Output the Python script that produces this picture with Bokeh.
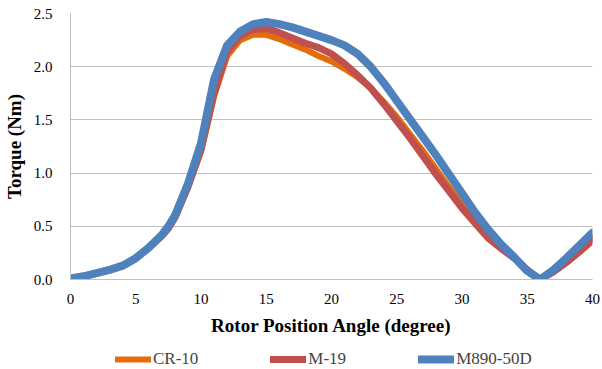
from bokeh.plotting import figure
from bokeh.layouts import column
from bokeh.models import Legend, LegendItem, SingleIntervalTicker, NumeralTickFormatter, Range1d
from bokeh.embed import file_html
from bokeh.resources import INLINE

# Rotor position angle (degree)
angle = [0, 1, 2, 3, 4, 5, 6, 7, 7.5, 8, 9, 10, 11, 12, 13, 14, 15, 16, 17, 18, 19, 20,
         21, 22, 23, 24, 25, 26, 27, 28, 29, 30, 31, 32, 33, 34, 35, 36, 37, 38, 39, 40]

# Static torque (Nm) for each lamination steel
cr10 = [0.01, 0.03, 0.06, 0.09, 0.13, 0.2, 0.3, 0.41, 0.48, 0.58, 0.86, 1.2, 1.72, 2.1, 2.25,
        2.3, 2.3, 2.26, 2.21, 2.16, 2.1, 2.05, 1.98, 1.9, 1.8, 1.67, 1.53, 1.37, 1.21, 1.04,
        0.87, 0.71, 0.55, 0.41, 0.3, 0.2, 0.09, 0.0, 0.08, 0.18, 0.28, 0.39]
m19 = [0.01, 0.03, 0.06, 0.09, 0.13, 0.2, 0.3, 0.41, 0.48, 0.58, 0.87, 1.22, 1.75, 2.14, 2.29,
       2.35, 2.36, 2.32, 2.27, 2.22, 2.18, 2.12, 2.03, 1.92, 1.8, 1.65, 1.49, 1.33, 1.16, 0.99,
       0.83, 0.67, 0.53, 0.39, 0.29, 0.2, 0.09, 0.0, 0.07, 0.16, 0.26, 0.37]
m890 = [0.01, 0.03, 0.06, 0.09, 0.13, 0.2, 0.3, 0.42, 0.5, 0.6, 0.9, 1.28, 1.88, 2.2, 2.33,
        2.4, 2.42, 2.4, 2.37, 2.33, 2.29, 2.25, 2.2, 2.12, 2.0, 1.85, 1.68, 1.51, 1.34, 1.17,
        0.99, 0.81, 0.63, 0.47, 0.33, 0.21, 0.08, 0.0, 0.09, 0.2, 0.32, 0.44]

series_names = ["CR-10", "M-19", "M890-50D"]
series_values = [cr10, m19, m890]
colors = ["#E46C0A", "#C0504D", "#4F81BD"]
widths = [6, 7, 8]

FONT = "Liberation Serif"

p = figure(width=602, height=338, output_backend="svg", toolbar_location=None,
           x_range=Range1d(0, 40), y_range=Range1d(0, 2.5),
           min_border_left=70, min_border_right=10, min_border_top=13, min_border_bottom=59)
p.outline_line_color = None
p.background_fill_color = "white"
p.border_fill_color = "white"

for vals, c, w in zip(series_values, colors, widths):
    p.line(angle, vals, line_color=c, line_width=w, line_join="round", line_cap="round")

# grid
p.xgrid.grid_line_color = None
p.ygrid.grid_line_color = "#BFBFBF"
p.ygrid.grid_line_width = 1

# axes
p.xaxis.ticker = SingleIntervalTicker(interval=5)
p.yaxis.ticker = SingleIntervalTicker(interval=0.5)
p.yaxis.formatter = NumeralTickFormatter(format="0.0")
for ax in (p.xaxis[0], p.yaxis[0]):
    ax.axis_line_color = "#BFBFBF"
    ax.major_tick_line_color = None
    ax.minor_tick_line_color = None
    ax.major_label_text_font = FONT
    ax.major_label_text_font_size = "15px"
    ax.major_label_text_color = "#000000"
    ax.axis_label_text_font = FONT
    ax.axis_label_text_font_style = "bold"
    ax.axis_label_text_font_size = "19px"
    ax.axis_label_text_color = "#000000"
p.xaxis.axis_label = "Rotor Position Angle (degree)"
p.yaxis.axis_label = "Torque (Nm)"
p.xaxis.major_label_standoff = 8
p.xaxis.axis_label_standoff = 8
p.yaxis.major_label_standoff = 12
p.yaxis.axis_label_standoff = 6

# legend strip under the chart; its frame lines up with the chart frame,
# and the same series are drawn there outside the visible y range so that
# only the legend entries show
leg = figure(width=602, height=31, output_backend="svg", toolbar_location=None,
             x_range=Range1d(0, 40), y_range=Range1d(10, 11),
             min_border_left=70, min_border_right=10, min_border_top=0, min_border_bottom=0)
leg.axis.visible = False
leg.grid.visible = False
leg.outline_line_color = None
leg.background_fill_color = "white"
leg.border_fill_color = "white"

items = []
for name, vals, c, w in zip(series_names, series_values, colors, widths):
    r = leg.line(angle, vals, line_color=c, line_width=w, line_cap="round")
    items.append(LegendItem(label=name, renderers=[r]))

legend = Legend(items=items, orientation="horizontal", location=(45, 0),
                label_text_font=FONT, label_text_font_size="17px",
                glyph_width=36, glyph_height=16, label_standoff=2, spacing=72,
                border_line_color=None, background_fill_alpha=0,
                margin=0, padding=2)
leg.add_layout(legend, "center")

layout = column(p, leg, spacing=0)
open("out.html", "w").write(file_html(layout, INLINE))
